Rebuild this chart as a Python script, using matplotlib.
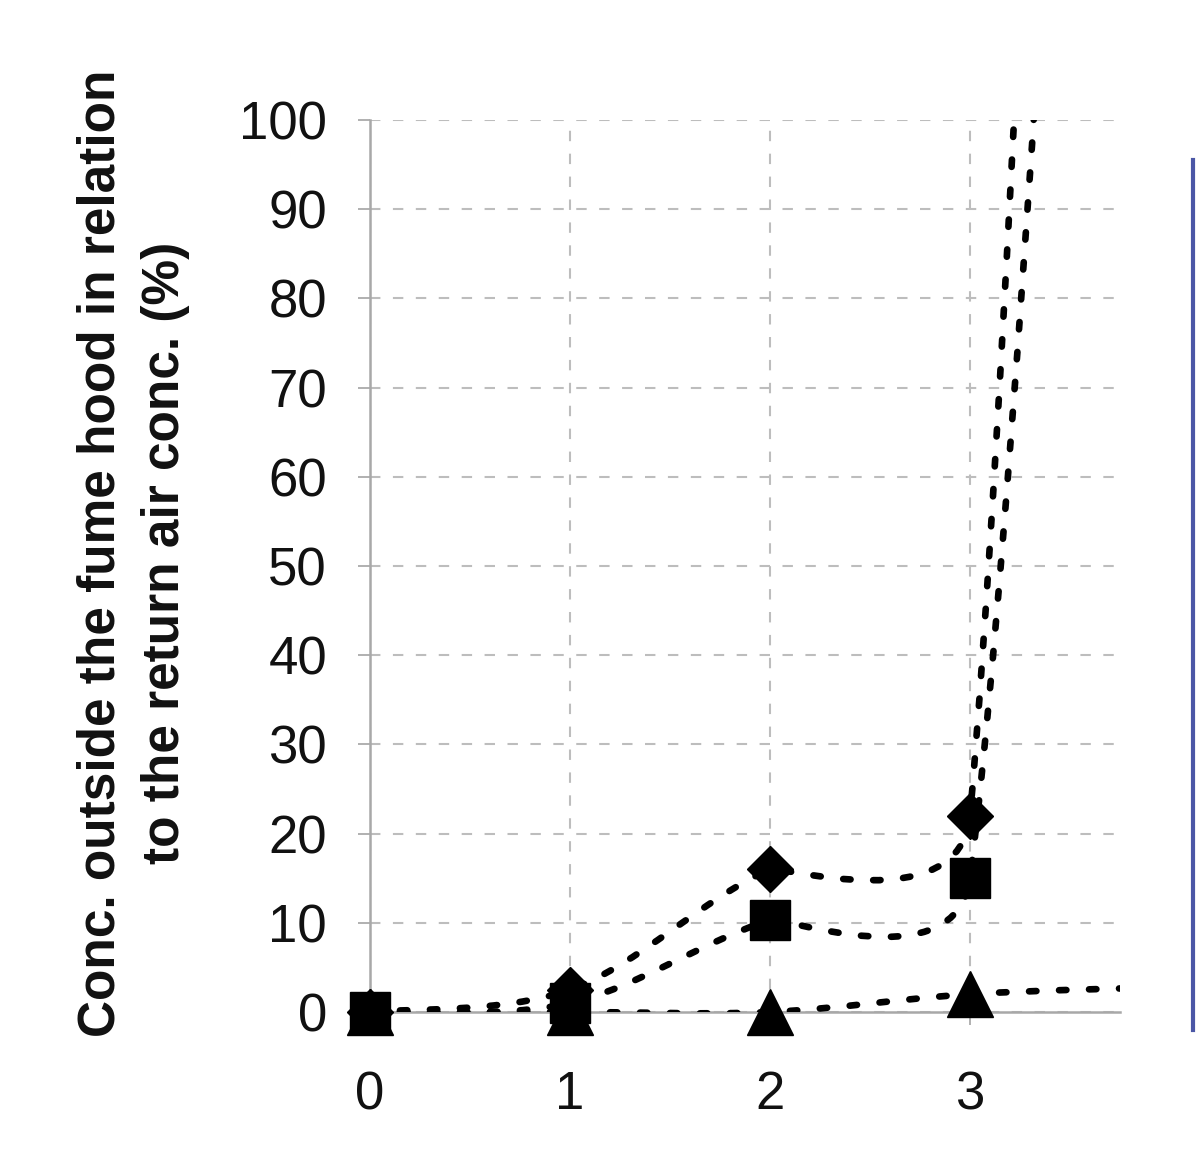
import numpy as np
import matplotlib
matplotlib.use("Agg")
import matplotlib.pyplot as plt
from matplotlib.path import Path
from matplotlib.patches import PathPatch
from matplotlib.lines import Line2D

# ---- data ----
x_vals = [0, 1, 2, 3, 4]
diamond_vals = [0, 2.5, 16, 22, 520]
square_vals = [0, 1.0, 10.3, 15, 360]
triangle_vals = [0, 0, 0, 2, 2.8]
x_ticks = [0, 1, 2, 3]
y_ticks = [0, 10, 20, 30, 40, 50, 60, 70, 80, 90, 100]
ylabel_text = "Conc. outside the fume hood in relation\nto the return air conc. (%)"

plt.rcParams['font.family'] = ['Liberation Sans', 'DejaVu Sans']

fig = plt.figure(figsize=(12, 11.55), dpi=100)
ax = fig.add_axes([370/1200, 1 - 1012/1155, 750/1200, 892/1155])
ax.set_xlim(0, 3.75)
ax.set_ylim(0, 100)

grid_col = '#bdbdbd'
ax.set_xticks(x_ticks)
ax.set_yticks(y_ticks)
ax.grid(True, color=grid_col, linestyle=(0, (5, 6)), linewidth=1.5)
ax.set_axisbelow(True)
for s in ['top', 'right']:
    ax.spines[s].set_visible(False)
for s in ['left', 'bottom']:
    ax.spines[s].set_color('#a8a8a8')
    ax.spines[s].set_linewidth(1.8)
ax.tick_params(axis='y', length=9, width=1.4, color='#b0b0b0', pad=22, labelsize=38, labelcolor='#111111')
ax.tick_params(axis='x', length=9, width=1.4, color='#b0b0b0', pad=33, labelsize=38, labelcolor='#111111')

fig.canvas.draw()


def excel_smooth(xs, ys):
    """Excel-style smoothed line: cubic Bezier segments computed in display space."""
    pts = ax.transData.transform(np.column_stack([xs, ys]))
    n = len(pts)
    verts = [pts[0]]
    codes = [Path.MOVETO]
    for i in range(n - 1):
        p1 = pts[i]
        p2 = pts[i + 1]
        p0 = pts[i - 1] if i > 0 else p1
        p3 = pts[i + 2] if i + 2 < n else p2
        d01 = np.hypot(*(p1 - p0))
        d12 = np.hypot(*(p2 - p1))
        d23 = np.hypot(*(p3 - p2))
        f = 1 / 6
        c0 = d01 * f > d12 / 2
        c1 = d23 * f > d12 / 2
        if c0 and c1:
            f0 = d12 / (2 * d01)
            f1 = d12 / (2 * d23)
        elif c0:
            f0 = f1 = d12 / (2 * d01)
        elif c1:
            f0 = f1 = d12 / (2 * d23)
        else:
            f0 = f1 = f
        b1 = p1 + f0 * (p2 - p0)
        b2 = p2 - f1 * (p3 - p1)
        verts += [b1, b2, p2]
        codes += [Path.CURVE4] * 3
    verts = ax.transData.inverted().transform(np.array(verts))
    return Path(verts, codes)


line_style = dict(fill=False, edgecolor='black', linewidth=4.8,
                  linestyle=(0, (1.1, 3.4)), capstyle='round', joinstyle='round', zorder=3)
for ys in [triangle_vals, square_vals, diamond_vals]:
    patch = PathPatch(excel_smooth(x_vals, ys), **line_style)
    ax.add_patch(patch)

mk = dict(linestyle='none', color='black', clip_on=False, zorder=4)
ax.plot(x_vals[:4], diamond_vals[:4], marker='D', markersize=23, **mk)
ax.plot(x_vals[:4], triangle_vals[:4], marker='^', markersize=33, **mk)
ax.plot(x_vals[:4], square_vals[:4], marker='s', markersize=29, **mk)

fig.text(133/1200, 1 - 553/1155, ylabel_text, rotation=90, ha='center', va='center',
         multialignment='center', fontsize=37, fontweight='bold', linespacing=1.4,
         color='#111111')

fig.add_artist(Line2D([1193/1200, 1193/1200], [1 - 160/1155, 1 - 1030/1155],
                      color='#4b57a6', linewidth=3))

fig.savefig('out.png', dpi=100)
